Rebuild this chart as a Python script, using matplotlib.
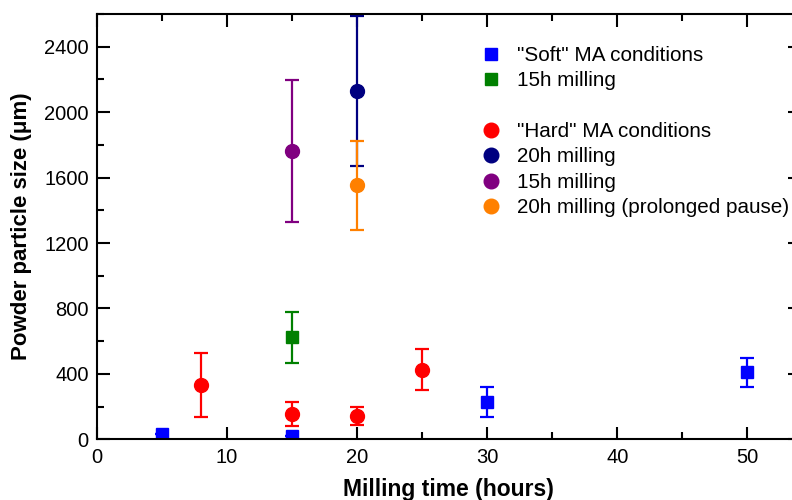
import matplotlib.pyplot as plt
from matplotlib.lines import Line2D
from matplotlib.ticker import MultipleLocator

plt.rcParams['font.family'] = ['Liberation Sans', 'DejaVu Sans']

# "Soft" MA conditions (blue squares)
soft_t = [5, 15, 30, 50]
soft_size = [30, 20, 230, 410]
soft_err = [0, 0, 92, 88]

# 15h milling, soft (green square)
soft15_t = [15]
soft15_size = [623]
soft15_err = [155]

# "Hard" MA conditions (red circles)
hard_t = [8, 15, 20, 25]
hard_size = [332, 153, 142, 425]
hard_err = [195, 72, 57, 126]

# 20h milling, hard (navy)
hard20_t = [20]
hard20_size = [2129]
hard20_err = [456]

# 15h milling, hard (purple)
hard15_t = [15]
hard15_size = [1762]
hard15_err = [433]

# 20h milling, prolonged pause (orange)
pause_t = [20]
pause_size = [1553]
pause_err = [271]

fig = plt.figure(figsize=(7.92, 5.0), dpi=100)
ax = fig.add_axes([0.1225, 0.1214, 0.887, 0.8506])

eb = dict(capsize=4.7, elinewidth=1.6, capthick=1.6, linestyle='none')

ax.errorbar(soft_t, soft_size, yerr=soft_err, color='#0000FF', marker='s', markersize=8.5, **eb)
ax.errorbar(soft15_t, soft15_size, yerr=soft15_err, color='#008000', marker='s', markersize=8.5, **eb)
ax.errorbar(hard_t, hard_size, yerr=hard_err, color='#FF0000', marker='o', markersize=10, **eb)
ax.errorbar(hard20_t, hard20_size, yerr=hard20_err, color='#000080', marker='o', markersize=10, **eb)
ax.errorbar(hard15_t, hard15_size, yerr=hard15_err, color='#800080', marker='o', markersize=10, **eb)
ax.errorbar(pause_t, pause_size, yerr=pause_err, color='#FF8000', marker='o', markersize=10, **eb)

ax.set_xlim(0, 54)
ax.set_ylim(0, 2600)
ax.xaxis.set_major_locator(MultipleLocator(10))
ax.xaxis.set_minor_locator(MultipleLocator(5))
ax.yaxis.set_major_locator(MultipleLocator(400))
ax.yaxis.set_minor_locator(MultipleLocator(200))
ax.tick_params(which='both', direction='in', top=True, right=True, width=1.5)
ax.tick_params(which='major', length=9, labelsize=14.5, pad=6)
ax.tick_params(which='minor', length=5)
for s in ax.spines.values():
    s.set_linewidth(1.5)

ax.set_xlabel('Milling time (hours)', fontsize=16.5, fontweight='bold', labelpad=8)
ax.set_ylabel('Powder particle size (\u03bcm)', fontsize=16, fontweight='bold', labelpad=9)

def mk(marker, color, size):
    return Line2D([], [], linestyle='none', marker=marker, color=color, markersize=size)

handles = [
    mk('s', '#0000FF', 8.5), mk('s', '#008000', 8.5),
    Line2D([], [], linestyle='none'),
    mk('o', '#FF0000', 10.5), mk('o', '#000080', 10.5),
    mk('o', '#800080', 10.5), mk('o', '#FF8000', 10.5),
]
labels = ['"Soft" MA conditions', '15h milling', ' ',
          '"Hard" MA conditions', '20h milling', '15h milling',
          '20h milling (prolonged pause)']
fig.legend(handles, labels, loc='upper left', bbox_to_anchor=(0.599, 0.925),
           frameon=False, fontsize=14.9, handlelength=0.8, handletextpad=0.88,
           labelspacing=0.31, borderaxespad=0)

fig.savefig('out.png', dpi=100)
